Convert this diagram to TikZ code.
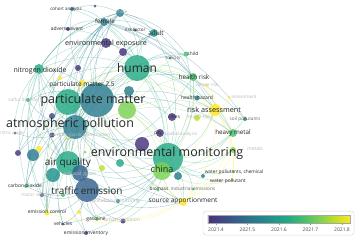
\documentclass[tikz,border=0pt]{standalone}
\usepackage{fontspec}
\setmainfont{Open Sans}
\usetikzlibrary{backgrounds}
\definecolor{vir0}{HTML}{46337E}
\definecolor{vir1}{HTML}{3E4A89}
\definecolor{vir2}{HTML}{33638D}
\definecolor{vir3}{HTML}{297B8E}
\definecolor{vir4}{HTML}{21918C}
\definecolor{vir5}{HTML}{22A884}
\definecolor{vir6}{HTML}{44BF70}
\definecolor{vir7}{HTML}{7AD151}
\definecolor{vir8}{HTML}{BDDF26}
\definecolor{vir9}{HTML}{FDE725}
\pgfdeclarehorizontalshading{viridis}{100bp}{color(0bp)=(vir0); color(25bp)=(vir0); color(30.5bp)=(vir1); color(36bp)=(vir2); color(41.5bp)=(vir3); color(47bp)=(vir4); color(53bp)=(vir5); color(58.5bp)=(vir6); color(64bp)=(vir7); color(69.5bp)=(vir8); color(75bp)=(vir9); color(100bp)=(vir9)}
\newcommand\fs[1]{\fontsize{#1}{#1}\selectfont}
% curved link, bulging away from the middle of the map
\newcommand\link[3]{%
  \pgfpointanchor{#1}{center}\pgfgetlastxy{\ax}{\ay}%
  \pgfpointanchor{#2}{center}\pgfgetlastxy{\bx}{\by}%
  \pgfpointanchor{mid}{center}\pgfgetlastxy{\cx}{\cy}%
  \pgfmathsetmacro\turn{(\ax-\cx)/100*(\by-\cy)/100-(\ay-\cy)/100*(\bx-\cx)/100}%
  \ifdim\turn pt>0pt\relax
    \draw[lnk,#3] (#1) to[bend right=20] (#2);
  \else
    \draw[lnk,#3] (#1) to[bend left=20] (#2);
  \fi}
\tikzset{
  kw/.style 2 args={circle, inner sep=0pt, minimum size=2*#1bp, fill=#2, fill opacity=.82, draw=none},
  lbl/.style={inner sep=0pt, text=black!85},
  faint/.style={inner sep=0pt, text=black!28, font=\fs{4.6}},
  lnk/.style={line width=.4pt, draw opacity=.38},
  tick/.style={inner sep=0pt, text=black!70, font=\fs{5}},
}

\begin{document}
\begin{tikzpicture}[x=1bp, y=-1bp]
  \useasboundingbox (0,0) rectangle (358,241);
  \coordinate (mid) at (130,120);

  % keywords
  \node[kw={13}{vir5}] (pmg) at (68,102) {};
  \node[kw={17}{vir3}] (pm) at (97,100) {};
  \node[kw={13}{vir5}] (human) at (137,68) {};
  \node[kw={12}{vir3}] (atm) at (75,127) {};
  \node[kw={12}{vir5}] (airq) at (68,163) {};
  \node[kw={8}{vir2}] (exhaust) at (80,173) {};
  \node[kw={7}{vir4}] (tealA) at (53,175) {};
  \node[kw={12}{vir2}] (traffic) at (87,190) {};
  \node[kw={7}{vir0}] (purpleA) at (142,144) {};
  \node[kw={15}{vir5}] (envmon) at (168,158) {};
  \node[kw={9}{vir7}] (china) at (162,171) {};
  \node[kw={9}{vir7}] (limeA) at (127,110) {};
  \node[kw={5}{vir3}] (tealB) at (129,91) {};
  \node[kw={5}{vir0}] (envexp) at (106,43) {};
  \node[kw={4}{vir0}] (purpleB) at (123,52) {};
  \node[kw={5}{vir5}] (no2) at (39,69) {};
  \node[kw={4}{vir3}] (female) at (104,22) {};
  \node[kw={4}{vir3}] (male) at (120,13) {};
  \node[kw={4}{vir4}] (adult) at (154,33) {};
  \node[kw={2}{vir3}] (cohort) at (72,9) {};
  \node[kw={1.5}{vir1}] (dotA) at (95,6) {};
  \node[kw={2}{vir0}] (adverse) at (68,29) {};
  \node[kw={1.5}{vir1}] (riskfac) at (135,30) {};
  \node[kw={3}{vir9}] (pm25) at (82,83) {};
  \node[kw={2}{vir9}] (yellowA) at (60,78) {};
  \node[kw={3}{vir0}] (purpleC) at (78,68) {};
  \node[kw={1.5}{vir3}] (toxicity) at (170,58) {};
  \node[kw={2.5}{vir6}] (child) at (186,54) {};
  \node[kw={4}{vir6}] (hrisk) at (193,77) {};
  \node[kw={1.5}{vir9}] (cancer) at (207,85) {};
  \node[kw={2.5}{vir3}] (hhazard) at (197,98) {};
  \node[kw={1.5}{vir9}] (assess) at (229,97) {};
  \node[kw={6}{vir9}] (riskass) at (215,110) {};
  \node[kw={3}{vir8}] (hrisks) at (197,118) {};
  \node[kw={4}{vir0}] (cities) at (172,117) {};
  \node[kw={4}{vir0}] (city) at (160,133) {};
  \node[kw={2}{vir3}] (soil) at (245,119) {};
  \node[kw={4}{vir6}] (hmetal) at (233,133) {};
  \node[kw={3}{vir7}] (metals) at (233,150) {};
  \node[kw={1.5}{vir8}] (wpchem) at (233,171) {};
  \node[kw={1.5}{vir8}] (wpol) at (232,180) {};
  \node[kw={2}{vir3}] (tealC) at (203,176) {};
  \node[kw={4}{vir3}] (tealD) at (178,176) {};
  \node[kw={1.5}{vir6}] (biomass) at (158,190) {};
  \node[kw={1.5}{vir6}] (indem) at (193,189) {};
  \node[kw={4}{vir9}] (source) at (183,202) {};
  \node[kw={2}{vir3}] (pollmon) at (118,201) {};
  \node[kw={2}{vir7}] (gasoline) at (97,219) {};
  \node[kw={2.5}{vir0}] (urban) at (123,221) {};
  \node[kw={1.5}{vir2}] (vehicles) at (63,224) {};
  \node[kw={2}{vir0}] (emiinv) at (86,233) {};
  \node[kw={2.5}{vir9}] (emctrl) at (47,213) {};
  \node[kw={2}{vir9}] (yellowD) at (79,212) {};
  \node[kw={2}{vir6}] (greenB) at (63,195) {};
  \node[kw={2}{vir1}] (motveh) at (42,195) {};
  \node[kw={2}{vir6}] (co2) at (26,186) {};
  \node[kw={1.5}{vir0}] (nitric) at (15,133) {};
  \node[kw={3}{vir0}] (purpleD) at (18,153) {};
  \node[kw={6}{vir3}] (tealE) at (33,155) {};
  \node[kw={3}{vir9}] (yellowB) at (39,149) {};
  \node[kw={2.5}{vir0}] (purpleE) at (52,135) {};
  \node[kw={2}{vir5}] (so2) at (28,100) {};
  \node[kw={3}{vir1}] (blueA) at (52,116) {};
  \node[kw={3}{vir8}] (yellowC) at (102,168) {};
  \node[kw={4}{vir5}] (greenA) at (120,163) {};
  \node[kw={1.5}{vir7}] (carbon) at (85,152) {};
  \node[kw={1.5}{vir8}] (particles) at (68,139) {};

  % links
  \begin{scope}[on background layer]
    \foreach \h/\c/\ts in {
      pm/vir3/{human,envmon,atm,airq,traffic,no2,so2,female,male,adult,envexp,pm25,china,riskass,hrisk,cities,city,source,emctrl,co2,motveh,cohort,child,hmetal,gasoline,pollmon,tealE,purpleD,blueA},
      human/vir5/{female,male,adult,child,hrisk,riskass,envexp,cohort,adverse,riskfac,toxicity,envmon,airq,atm,no2,hmetal,soil,hhazard,china,traffic,cities,purpleB,so2,emctrl},
      envmon/vir5/{riskass,hmetal,soil,metals,wpchem,wpol,source,china,city,cities,indem,traffic,airq,atm,hrisk,child,female,gasoline,urban,pollmon,emiinv,tealC,tealD,adult,no2,vehicles},
      atm/vir3/{airq,traffic,no2,so2,nitric,purpleD,female,envexp,emctrl,co2,motveh,vehicles,city,male,adult,china,source},
      airq/vir5/{traffic,no2,so2,emctrl,co2,vehicles,emiinv,gasoline,female,adult,china,source,hrisk,cohort},
      traffic/vir2/{emctrl,vehicles,emiinv,gasoline,urban,pollmon,motveh,co2,no2,china,source,female},
      female/vir3/{male,adult,cohort,adverse,envexp,no2,riskass,hmetal,emctrl,hrisk,co2,soil},
      male/vir3/{adult,cohort,envexp,no2,child,hrisk,tealE,purpleD},
      no2/vir5/{so2,envexp,male,co2,emctrl,nitric,motveh},
      riskass/vir9/{hmetal,soil,hrisk,hhazard,source,china,cities,wpol,cancer,assess,wpchem},
      source/vir9/{hmetal,china,indem,metals,gasoline,emctrl},
      pmg/vir5/{human,envmon,airq,atm,no2,female,emctrl,co2},
      limeA/vir7/{human,envmon,riskass,hrisk,hmetal,china,airq,pm25,source,child},
      pm25/vir8/{airq,envmon,riskass,hrisk,source,emctrl,yellowB,yellowC},
      china/vir7/{hmetal,source,metals,wpol,city,hrisk}}
      {\foreach \t in \ts {\link{\h}{\t}{\c}}}
  \end{scope}

  % labels
  \node[lbl, font=\fs{12.5}] (t-pm) at (93,100) {particulate matter};
  \node[lbl, font=\fs{12.5}] (t-atm) at (70,124) {atmospheric pollution};
  \node[lbl, font=\fs{12.5}] (t-envmon) at (167,153) {environmental monitoring};
  \node[lbl, font=\fs{12}] (t-human) at (137,68) {human};
  \node[lbl, font=\fs{10}] (t-airq) at (68,163) {air quality};
  \node[lbl, font=\fs{10}] (t-traffic) at (87,191) {traffic emission};
  \node[lbl, font=\fs{9}] (t-china) at (162,169) {china};
  \node[lbl, font=\fs{7.2}] (t-envexp) at (106,44) {environmental exposure};
  \node[lbl, font=\fs{7}] (t-no2) at (40,71) {nitrogen dioxide};
  \node[lbl, font=\fs{7.3}] (t-riskass) at (214,110) {risk assessment};
  \node[lbl, font=\fs{6.6}] (t-source) at (183,201) {source apportionment};
  \node[lbl, font=\fs{6.3}] (t-hmetal) at (233,133) {heavy metal};
  \node[lbl, font=\fs{6.5}] (t-pm25) at (82,85) {particulate matter 2.5};
  \node[lbl, font=\fs{6.3}] (t-hrisk) at (194,77) {health risk};
  \node[lbl, font=\fs{6.5}] (t-adult) at (156,33) {adult};
  \node[lbl, font=\fs{6.2}] (t-female) at (105,21) {female};
  \node[lbl, font=\fs{4.5}] (t-cohort) at (66,9) {cohort analysis};
  \node[lbl, font=\fs{5}] (t-adverse) at (67,29) {adverse event};
  \node[lbl, font=\fs{4.5}] (t-riskfac) at (135,30) {risk factor};
  \node[lbl, font=\fs{4.5}, text=black!60] (t-toxicity) at (173,58) {toxicity};
  \node[lbl, font=\fs{4.8}] (t-child) at (193,54) {child};
  \node[lbl, font=\fs{5}] (t-hhazard) at (197,98) {health hazard};
  \node[lbl, font=\fs{4.7}, text=black!60] (t-soil) at (245,119) {soil pollutants};
  \node[lbl, font=\fs{5}] (t-cities) at (174,117) {cities};
  \node[lbl, font=\fs{5}] (t-city) at (158,133) {city};
  \node[lbl, font=\fs{4.8}] (t-wpchem) at (234,172) {water pollutants, chemical};
  \node[lbl, font=\fs{5}] (t-wpol) at (228,181) {water pollutant};
  \node[lbl, font=\fs{4.8}] (t-biomass) at (159,189) {biomass};
  \node[lbl, font=\fs{4.8}, text=black!60] (t-indem) at (193,189) {industrial emissions};
  \node[lbl, font=\fs{4.9}] (t-co2) at (25,186) {carbon dioxide};
  \node[lbl, font=\fs{5}] (t-emctrl) at (47,212) {emission control};
  \node[lbl, font=\fs{5}] (t-vehicles) at (63,224) {vehicles};
  \node[lbl, font=\fs{5}] (t-emiinv) at (86,233) {emission inventory};
  \node[lbl, font=\fs{5}] (t-gasoline) at (96,219) {gasoline};
  \node[faint, font=\fs{5}] (t-male) at (122,12) {male};
  \node[faint] (t-so2) at (23,100) {sulfur dioxide};
  \node[faint] (t-cancer) at (207,85) {cancer risk};
  \node[faint] (t-assess) at (244,97) {assessment};
  \node[faint, font=\fs{5}] (t-hrisks) at (200,117) {health risks};
  \node[faint, font=\fs{5}] (t-metals) at (255,149) {metals};
  \node[faint] (t-particles) at (80,135) {particles (particulate matter)};
  \node[faint, font=\fs{5}] (t-exhaust) at (80,174) {exhaust gases};
  \node[faint] (t-motveh) at (37,195) {motor vehicles};
  \node[faint, font=\fs{5}] (t-pollmon) at (116,201) {pollution monitoring};
  \node[faint, font=\fs{5}] (t-urban) at (122,220) {urban pollution};
  \node[faint] (t-spatial) at (181,134) {spatial analysis};
  \node[faint] (t-nitric) at (12,133) {nitric oxide};

  % colour scale
  \node[draw=black!15, line width=.5pt, rounded corners=3bp, fill=white, minimum width=151bp, minimum height=24bp, inner sep=0pt] (legend) at (278.5,223) {};
  \node[shade, shading=viridis, draw=black!35, line width=.3pt, minimum width=142bp, minimum height=8bp, inner sep=0pt] (bar) at (279,219) {};
  \foreach \v [count=\i from 0] in {2021.4,2021.5,2021.6,2021.7,2021.8}{
    \draw[black!40, line width=.3pt] (216+31.5*\i,223) -- ++(0,2);
    \node[tick] (tk\i) at (216+31.5*\i,230) {\v};
  }
\end{tikzpicture}
\end{document}
